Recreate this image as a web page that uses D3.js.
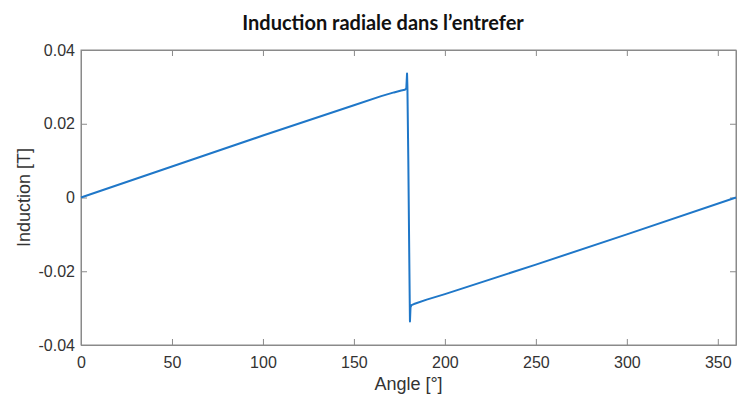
<!DOCTYPE html>
<html><head><meta charset="utf-8">
<script src="https://cdn.jsdelivr.net/npm/d3@7"></script>
<style>body{margin:0;background:#fff}svg{display:block}</style>
</head><body>
<svg id="c" width="741" height="398"></svg>
<script>
const angles = [0, 50, 100, 150, 165, 172, 176, 178, 178.8, 179.2, 179.4, 179.9, 180.4, 180.8, 181.1, 181.6, 183, 190, 200, 250, 300, 360];
const induction = [0, 0.0084, 0.0168, 0.0250, 0.0275, 0.0285, 0.0290, 0.0292, 0.0296, 0.0336, 0.0300, 0.0100, -0.0150, -0.0336, -0.0298, -0.0292, -0.0289, -0.0277, -0.0262, -0.0182, -0.0100, 0];
const xTicks = [0, 50, 100, 150, 200, 250, 300, 350];
const yTicks = [-0.04, -0.02, 0, 0.02, 0.04];
const yTickLabels = ["-0.04", "-0.02", "0", "0.02", "0.04"];
const title = "Induction radiale dans l\u2019entrefer";
const xLabel = "Angle [\u00b0]";
const yLabel = "Induction [T]";

const svg = d3.select("#c");
const L = 81, R = 736, T = 50, B = 345;
const x = d3.scaleLinear().domain([0, 360]).range([L, R]);
const y = d3.scaleLinear().domain([-0.04, 0.04]).range([B, T]);
const axisCol = "#8a8a8a", textCol = "#333";

svg.append("rect").attr("x", L).attr("y", T).attr("width", R - L).attr("height", B - T)
  .attr("fill", "none").attr("stroke", axisCol).attr("stroke-width", 1);

const fmt = (d) => yTickLabels[yTicks.indexOf(d)];
const gx = svg.append("g").attr("transform", `translate(0,${B})`)
  .call(d3.axisBottom(x).tickValues(xTicks).tickSizeInner(-6).tickSizeOuter(0).tickPadding(12));
const gxt = svg.append("g").attr("transform", `translate(0,${T})`)
  .call(d3.axisTop(x).tickValues(xTicks).tickSizeInner(-6).tickSizeOuter(0).tickFormat(""));
const gy = svg.append("g").attr("transform", `translate(${L},0)`)
  .call(d3.axisLeft(y).tickValues(yTicks).tickSizeInner(-6).tickSizeOuter(0).tickPadding(6).tickFormat(fmt));
const gyr = svg.append("g").attr("transform", `translate(${R},0)`)
  .call(d3.axisRight(y).tickValues(yTicks).tickSizeInner(-6).tickSizeOuter(0).tickFormat(""));
[gx, gxt, gy, gyr].forEach(g => {
  g.select(".domain").attr("stroke", axisCol);
  g.selectAll(".tick line").attr("stroke", axisCol);
  g.selectAll("text").attr("fill", textCol).attr("font-family", "Liberation Sans, Arial, sans-serif").attr("font-size", 16);
});

svg.append("path").datum(angles.map((a, i) => [a, induction[i]]))
  .attr("fill", "none").attr("stroke", "#1f77c8").attr("stroke-width", 2)
  .attr("stroke-linejoin", "round")
  .attr("d", d3.line().x(d => x(d[0])).y(d => y(d[1])));

svg.append("text").attr("x", 383).attr("y", 30).attr("text-anchor", "middle")
  .attr("font-family", "Lato, sans-serif").attr("font-weight", 700).attr("font-size", 20)
  .attr("fill", "#111").text(title);
svg.append("text").attr("x", (L + R) / 2).attr("y", 390).attr("text-anchor", "middle")
  .attr("font-family", "Liberation Sans, Arial, sans-serif").attr("font-size", 18)
  .attr("fill", textCol).text(xLabel);
svg.append("text").attr("transform", `translate(30,${(T + B) / 2}) rotate(-90)`).attr("text-anchor", "middle")
  .attr("font-family", "Liberation Sans, Arial, sans-serif").attr("font-size", 18)
  .attr("fill", textCol).text(yLabel);
</script>
</body></html>
